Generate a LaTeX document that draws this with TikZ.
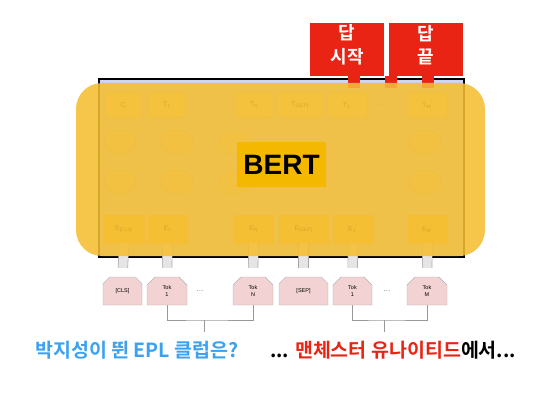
\documentclass[tikz,border=0pt]{standalone}
\usepackage{fontspec}
\setmainfont{Liberation Sans}
\newfontfamily\kofont{Noto Sans CJK KR}[BoldFont={Noto Sans CJK KR Bold}]
\usetikzlibrary{positioning,shapes.misc,shapes.geometric}

\definecolor{bertyellow}{RGB}{245,190,50}
\definecolor{labelgold}{RGB}{245,184,0}
\definecolor{answerred}{RGB}{234,36,20}
\definecolor{qblue}{RGB}{58,162,240}
\definecolor{tokpink}{RGB}{242,210,210}
\definecolor{frameblue}{RGB}{200,216,242}
\definecolor{tfill}{RGB}{252,226,150}
\definecolor{efill}{RGB}{250,202,60}

\begin{document}
\begin{tikzpicture}
	% Styles
	[
	x=1pt,y=-1pt,
	tbox/.style={rounded corners=3pt,draw=gray!70,fill=tfill,minimum height=25pt,inner sep=0pt,font=\fontsize{7}{8}\selectfont},
	ebox/.style={draw=orange!60,fill=efill,minimum height=28pt,inner sep=0pt,font=\fontsize{7}{8}\selectfont},
	tokbox/.style={chamfered rectangle,chamfered rectangle corners={north west,north east},chamfered rectangle sep=4pt,draw=gray!60,fill=tokpink,minimum height=28pt,inner sep=0pt,align=center,font=\fontsize{5.5}{7}\selectfont},
	trm/.style={ellipse,draw=gray!70,fill=frameblue!40!tfill,minimum width=32pt,minimum height=24pt},
	dots/.style={text=gray,font=\fontsize{8}{8}\selectfont},
	answer/.style={fill=answerred,minimum width=74pt,minimum height=53pt,inner sep=0pt},
	anstext/.style={yshift=4.5pt,text=white,inner sep=0pt,align=center,font=\kofont\bfseries\fontsize{18}{23.5}\selectfont},
	redstub/.style={answerred,line width=12pt},
	graystub/.style={draw=gray!70,double=gray!20,double distance=9pt,line width=0.6pt,shorten <=9pt},
	bracket/.style={draw=gray!80,line width=1pt},
	]
	\useasboundingbox (0,0) rectangle (556,414);

	% Nodes
	\node at (281.5,168)	(bert)	[draw=black,line width=1.2pt,fill=frameblue,minimum width=365pt,minimum height=178pt] {};

	\node at (123.5,105)	(tc)	[tbox,minimum width=37pt] {C};
	\node at (167,105)	(t1)	[tbox,minimum width=38pt] {T\textsubscript{1}};
	\node at (201,105)	(td1)	[dots] {...};
	\node at (254,105)	(tn)	[tbox,minimum width=38pt] {T\textsubscript{N}};
	\node at (300,105)	(tsep)	[tbox,minimum width=46pt] {T\textsubscript{[SEP]}};
	\node at (347.5,105)	(t1b)	[tbox,minimum width=39pt] {T\textsubscript{1}\textsuperscript{'}};
	\node at (381,105)	(td2)	[dots] {...};
	\node at (427.5,105)	(tm)	[tbox,minimum width=39pt] {T\textsubscript{M}\textsuperscript{'}};

	\node at (120,142)	(r1a)	[trm] {};
	\node at (177,142)	(r1b)	[trm] {};
	\node at (235,142)	(r1c)	[trm] {};
	\node at (425,142)	(r1d)	[trm] {};
	\node at (120,182)	(r2a)	[trm] {};
	\node at (177,182)	(r2b)	[trm] {};
	\node at (235,182)	(r2c)	[trm] {};
	\node at (425,182)	(r2d)	[trm] {};

	\node at (124,229)	(ecls)	[ebox,minimum width=40pt] {E\textsubscript{[CLS]}};
	\node at (167.5,229)	(e1)	[ebox,minimum width=39pt] {E\textsubscript{1}};
	\node at (201,229)	(ed1)	[dots] {...};
	\node at (253.5,229)	(en)	[ebox,minimum width=39pt] {E\textsubscript{N}};
	\node at (303.5,229)	(esep)	[ebox,minimum width=49pt] {E\textsubscript{[SEP]}};
	\node at (353,229)	(e1b)	[ebox,minimum width=40pt] {E\textsubscript{1}\textsuperscript{'}};
	\node at (384,229)	(ed2)	[dots] {...};
	\node at (427.5,229)	(em)	[ebox,minimum width=39pt] {E\textsubscript{M}\textsuperscript{'}};

	\node at (122.5,291)	(kcls)	[tokbox,minimum width=39pt] {[CLS]};
	\node at (167,291)	(k1)	[tokbox,minimum width=40pt] {Tok\\1};
	\node at (200,291)	(kd1)	[dots] {...};
	\node at (253,291)	(kn)	[tokbox,minimum width=40pt] {Tok\\N};
	\node at (303.5,291)	(ksep)	[tokbox,minimum width=49pt] {[SEP]};
	\node at (352.5,291)	(k1b)	[tokbox,minimum width=39pt] {Tok\\1};
	\node at (387,291)	(kd2)	[dots] {...};
	\node at (427,291)	(km)	[tokbox,minimum width=40pt] {Tok\\M};

	\node at (347,49.5)	(ansstart)	[answer,label={[anstext]center:답\\시작}] {};
	\node at (426,49.5)	(ansend)	[answer,label={[anstext]center:답\\끝}] {};

	\coordinate (s1) at (354,88);
	\coordinate (s2) at (391,88);
	\coordinate (s3) at (427.5,88);

	% Connections
	\draw[graystub] (kcls.north) -- (ecls.south);
	\draw[graystub] (k1.north) -- (e1.south);
	\draw[graystub] (kn.north) -- (en.south);
	\draw[graystub] (ksep.north) -- (esep.south);
	\draw[graystub] (k1b.north) -- (e1b.south);
	\draw[graystub] (km.north) -- (em.south);

	\draw[redstub] (ansstart.south -| s1) -- (s1);
	\draw[redstub] (ansend.south -| s2) -- (s2);
	\draw[redstub] (ansend.south -| s3) -- (s3);

	% Highlight over the model
	\node at (280.5,169.5)	(glow)	[fill=bertyellow,fill opacity=0.88,rounded corners=26pt,minimum width=409pt,minimum height=173pt] {};
	\node at (281.5,164.5)	(label)	[fill=labelgold,minimum width=89pt,minimum height=45pt,inner sep=0pt,font=\bfseries\fontsize{28}{28}\selectfont] {BERT};

	% Question and answer
	\coordinate (qjoin) at (204,320);
	\coordinate (qtip) at (204,332);
	\coordinate (ajoin) at (384,320);
	\coordinate (atip) at (384,332);
	\draw[bracket] (k1.south) |- (qjoin) -| (kn.south);
	\draw[bracket] (qjoin) -- (qtip);
	\draw[bracket] (k1b.south) |- (ajoin) -| (km.south);
	\draw[bracket] (ajoin) -- (atip);

	\node at (35,350)	(question)	[anchor=west,inner sep=0pt,text=qblue,font=\kofont\bfseries\fontsize{19.5}{20}\selectfont] {박지성이 뛴 EPL 클럽은?};
	\node at (270,350)	(passage)	[anchor=west,inner sep=0pt,font=\kofont\bfseries\fontsize{19.5}{20}\selectfont] {... {\color{answerred}맨체스터 유나이티드}에서...};

\end{tikzpicture}
\end{document}
